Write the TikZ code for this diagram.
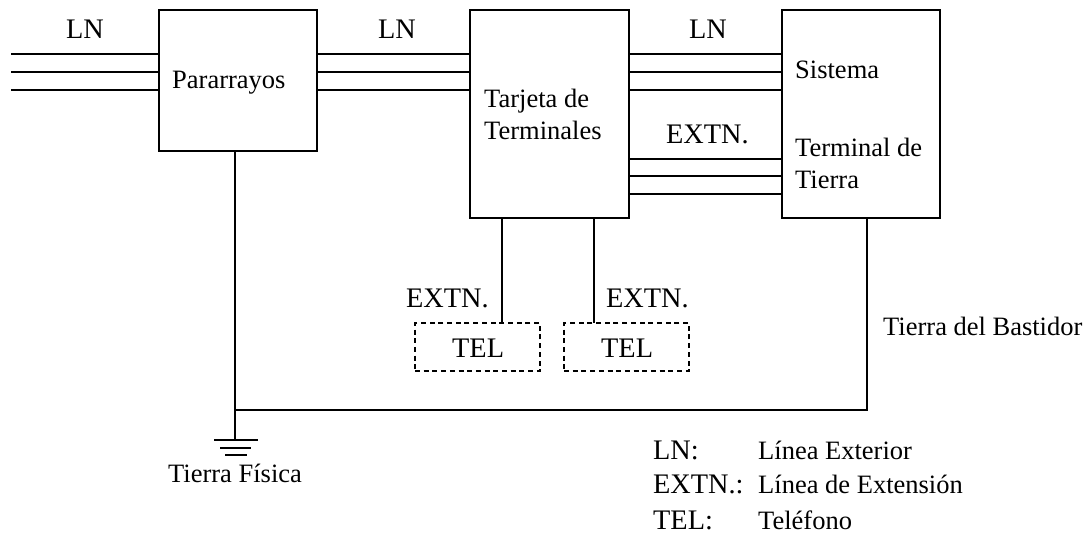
\documentclass[tikz,border=0pt]{standalone}
\usepackage{fontspec}
\setmainfont{Liberation Serif}
\tikzset{
  x=1pt,y=-1pt,
  boxshape/.style={draw,line width=1.8pt,inner sep=0pt,outer sep=0pt,anchor=north west,minimum width=#1},
  telbox/.style={draw,dash pattern=on 5pt off 3.7pt,line width=1.5pt,inner sep=0pt,outer sep=0pt,anchor=north west,minimum width=125pt,minimum height=48pt},
  wire/.style={line width=1.8pt},
  lbl/.style={font=\fontsize{28.3}{32}\selectfont,inner sep=0pt,anchor=base west},
  slbl/.style={font=\fontsize{26.5}{30}\selectfont,inner sep=0pt,anchor=base west}
}
\begin{document}
\begin{tikzpicture}
\useasboundingbox (0,0) rectangle (1087,533);
\node[boxshape=158pt,minimum height=141pt] (par) at (159,10) {};
\node[boxshape=159pt,minimum height=208pt] (tar) at (470,10) {};
\node[boxshape=158pt,minimum height=208pt] (sis) at (782,10) {};
\node[telbox] (t1) at (415,323) {};
\node[telbox] (t2) at (564,323) {};
\foreach \y in {54,72,90}{
  \coordinate (a) at (11,\y);
  \draw[wire] (a) -- (a -| par.west);
  \coordinate (b) at (par.east |- a);
  \draw[wire] (b) -- (b -| tar.west);
  \coordinate (c) at (tar.east |- a);
  \draw[wire] (c) -- (c -| sis.west);
}
\foreach \y in {159,176,194}{
  \coordinate (d) at (tar.east |- 0,\y);
  \draw[wire] (d) -- (d -| sis.west);
}
\coordinate (j) at (235,410);
\coordinate (g) at (235,440);
\coordinate (fr) at (867,410);
\draw[wire] (j |- par.south) -- (g);
\draw[wire] (j) -- (fr) -- (fr |- sis.south);
\coordinate (e1) at (502,323);
\coordinate (e2) at (594,323);
\draw[wire] (e1 |- tar.south) -- (e1);
\draw[wire] (e2 |- tar.south) -- (e2);
\coordinate (g1l) at (214,440); \coordinate (g1r) at (258,440);
\coordinate (g2l) at (220,448); \coordinate (g2r) at (251,448);
\coordinate (g3l) at (225,455); \coordinate (g3r) at (247,455);
\draw[wire] (g1l) -- (g1r);
\draw[wire] (g2l) -- (g2r);
\draw[wire] (g3l) -- (g3r);
\node[lbl] (l1) at (66,38) {LN};
\node[lbl] (l2) at (378,38) {LN};
\node[lbl] (l3) at (689,38) {LN};
\node[lbl] (l4) at (666,143) {EXTN.};
\node[lbl] (l5) at (406,307) {EXTN.};
\node[lbl] (l6) at (606,307) {EXTN.};
\node[lbl] (l7) at (452,357) {TEL};
\node[lbl] (l8) at (601,357) {TEL};
\node[slbl] (s1) at (172,88) {Pararrayos};
\node[slbl] (s2) at (484,107) {Tarjeta de};
\node[slbl] (s3) at (484,139) {Terminales};
\node[slbl] (s4) at (795,78) {Sistema};
\node[slbl] (s5) at (795,156) {Terminal de};
\node[slbl] (s6) at (795,188) {Tierra};
\node[slbl] (s7) at (883,335) {Tierra del Bastidor};
\node[slbl] (s8) at (168,482) {Tierra Física};
\node[lbl] (k1) at (653,459) {LN:};
\node[lbl] (k2) at (653,493) {EXTN.:};
\node[lbl] (k3) at (653,529) {TEL:};
\node[slbl] (v1) at (758,459) {Línea Exterior};
\node[slbl] (v2) at (758,493) {Línea de Extensión};
\node[slbl] (v3) at (758,529) {Teléfono};
\end{tikzpicture}
\end{document}
